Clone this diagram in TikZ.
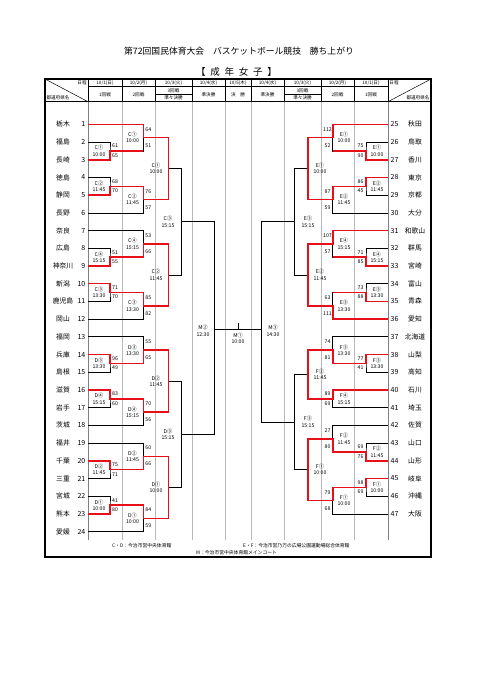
\documentclass[tikz,border=0pt]{standalone}
\usepackage{fontspec}
\setmainfont{Noto Sans CJK JP}
\usepackage{tikz}
\usetikzlibrary{calc}
\definecolor{kokured}{RGB}{232,16,24}
\definecolor{kokugray}{RGB}{185,185,185}
\tikzset{
  bout/.style={draw=black, line width=0.7pt},
  win/.style={draw=kokured, line width=1.6pt},
  colline/.style={draw=kokugray, line width=0.6pt},
  outer/.style={draw=black, line width=1.6pt},
  hgrid/.style={draw=black, line width=0.5pt},
  pref/.style={inner sep=0pt, font=\fontsize{6.8}{7}\selectfont},
  seed/.style={inner sep=0pt, font=\fontsize{7}{7}\selectfont},
  score/.style={inner sep=0pt, font=\fontsize{5.2}{5.2}\selectfont},
  slot/.style={inner sep=0pt, align=center, font=\fontsize{5.2}{6.4}\selectfont},
  head/.style={inner sep=0pt, font=\fontsize{4.6}{4.6}\selectfont},
  note/.style={inner sep=0pt, anchor=west, font=\fontsize{4.8}{4.8}\selectfont}
}

\begin{document}
\begin{tikzpicture}[x=1pt, y=-1pt]
  \useasboundingbox (0,0) rectangle (481,680);

  \node[font=\fontsize{8.8}{9}\selectfont] (title) at (239,51)
    {第72回国民体育大会　バスケットボール競技　勝ち上がり};
  \node[font=\fontsize{9.5}{10}\selectfont] (division) at (236.5,72)
    {【\hspace{0.5em}成\hspace{0.5em}年\hspace{0.5em}女\hspace{0.5em}子\hspace{0.5em}】};

  % header
  \draw[hgrid] (88,86.7) -- (388,86.7);
  \draw[hgrid] (45,101.7) -- (431,101.7);
  \draw[hgrid] (155,94) -- (192,94);
  \draw[hgrid] (284,94) -- (321,94);
  \foreach \x in {88,122,155,192,225,251,284,321,354,388}
    \draw[hgrid] (\x,79) -- (\x,101.7);
  \draw[hgrid] (45,79) -- (88,101.7);
  \draw[hgrid] (388,101.7) -- (431,79);
  \node[head] (dayL) at (82,83) {日程};
  \node[head] (prefL) at (58,97.5) {都道府県名};
  \node[head] (dayR) at (394,83) {日程};
  \node[head] (prefR) at (418,97.5) {都道府県名};
  \foreach \x/\d [count=\k] in {105/{10/1(日)},138.5/{10/2(月)},173.5/{10/3(火)},
      208.5/{10/4(水)},238/{10/5(木)},267.5/{10/4(水)},302.5/{10/3(火)},
      337.5/{10/2(月)},371/{10/1(日)}}
    \node[head] (date\k) at (\x,83) {\d};
  \foreach \x/\r [count=\k] in {105/1回戦,138.5/2回戦,208.5/準決勝,238/決　勝,
      267.5/準決勝,337.5/2回戦,371/1回戦}
    \node[head] (round\k) at (\x,94.3) {\r};
  \node[head] (thirdL) at (173.5,90.3) {3回戦};
  \node[head] (qfL) at (173.5,98) {準々決勝};
  \node[head] (thirdR) at (302.5,90.3) {3回戦};
  \node[head] (qfR) at (302.5,98) {準々決勝};

  \foreach \x in {122,155,192,225,251,284,321,354}
    \draw[colline] (\x,101.7) -- (\x,540);
  \foreach \x in {88,388}
    \draw[colline, draw=gray] (\x,101.7) -- (\x,540);
  \draw[outer] (45,79) rectangle (431,557);

  % teams
  \foreach \n/\p in {1/栃木,2/福島,3/長崎,4/徳島,5/静岡,6/長野,7/奈良,8/広島,
      9/神奈川,10/新潟,11/鹿児島,12/岡山,13/福岡,14/兵庫,15/島根,16/滋賀,
      17/岩手,18/茨城,19/福井,20/千葉,21/三重,22/宮城,23/熊本,24/愛媛}{
    \pgfmathsetmacro\yy{124.3+(\n-1)*17.71}
    \node[pref] (nm\n) at (63,\yy) {\p};
    \node[seed, anchor=east] (no\n) at (85.5,\yy) {\n};
    \coordinate (t\n) at (88,\yy);
  }
  \foreach \n/\p in {25/秋田,26/鳥取,27/香川,28/東京,29/京都,30/大分,31/和歌山,
      32/群馬,33/宮崎,34/富山,35/青森,36/愛知,37/北海道,38/山梨,39/高知,
      40/石川,41/埼玉,42/佐賀,43/山口,44/山形,45/岐阜,46/沖縄,47/大阪}{
    \pgfmathsetmacro\yy{124.3+(\n-25)*17.71}
    \node[pref] (nm\n) at (415,\yy) {\p};
    \node[seed, anchor=west] (no\n) at (390.5,\yy) {\n};
    \coordinate (t\n) at (388,\yy);
  }

  % match points
  \coordinate (C1a) at (110,150.9);   \coordinate (C1b) at (143.3,137.6);
  \coordinate (C2a) at (110,186.3);   \coordinate (C2b) at (143.3,199.6);
  \coordinate (C4a) at (110,257.2);   \coordinate (C4b) at (143.3,243.9);
  \coordinate (C3a) at (110,292.5);   \coordinate (C3b) at (143.3,305.8);
  \coordinate (C1c) at (168.3,168.6); \coordinate (C2c) at (168.3,274.9);
  \coordinate (C3d) at (181.5,221.7);
  \coordinate (D3a) at (110,363.4);   \coordinate (D3b) at (143.3,350.1);
  \coordinate (D4a) at (110,398.8);   \coordinate (D4b) at (143.3,412.1);
  \coordinate (D2a) at (110,469.6);   \coordinate (D2b) at (143.3,456.4);
  \coordinate (D1a) at (110,505.1);   \coordinate (D1b) at (143.3,518.4);
  \coordinate (D2c) at (168.3,381.1); \coordinate (D1c) at (168.3,487.4);
  \coordinate (D3d) at (181.5,434.3);
  \coordinate (M2) at (214.3,329);
  \coordinate (E1a) at (366,150.9);   \coordinate (E1b) at (332.7,137.6);
  \coordinate (E2a) at (366,186.3);   \coordinate (E2b) at (332.7,199.6);
  \coordinate (E4a) at (366,257.2);   \coordinate (E4b) at (332.7,243.9);
  \coordinate (E3a) at (366,292.5);   \coordinate (E3b) at (332.7,305.8);
  \coordinate (E1c) at (307.7,168.6); \coordinate (E2c) at (307.7,274.9);
  \coordinate (E3d) at (294.5,221.7);
  \coordinate (F3a) at (366,363.4);   \coordinate (F3b) at (332.7,350.1);
  \coordinate (F4b) at (332.7,398.8);
  \coordinate (F2a) at (366,452.0);   \coordinate (F2b) at (332.7,438.7);
  \coordinate (F1a) at (366,487.4);   \coordinate (F1b) at (332.7,500.6);
  \coordinate (F2c) at (307.7,374.4); \coordinate (F1c) at (307.7,469.6);
  \coordinate (F3d) at (294.5,422.0);
  \coordinate (M3) at (261.7,329);
  \coordinate (M1) at (238,329);

  \foreach \a/\b/\m in {t2/t3/C1a,t1/C1a/C1b,t4/t5/C2a,C2a/t6/C2b,C1b/C2b/C1c,
      t8/t9/C4a,t7/C4a/C4b,t10/t11/C3a,C3a/t12/C3b,C4b/C3b/C2c,C1c/C2c/C3d,
      t14/t15/D3a,t13/D3a/D3b,t16/t17/D4a,D4a/t18/D4b,D3b/D4b/D2c,
      t20/t21/D2a,t19/D2a/D2b,t22/t23/D1a,D1a/t24/D1b,D2b/D1b/D1c,
      D2c/D1c/D3d,C3d/D3d/M2,
      t26/t27/E1a,t25/E1a/E1b,t28/t29/E2a,E2a/t30/E2b,E1b/E2b/E1c,
      t32/t33/E4a,t31/E4a/E4b,t34/t35/E3a,E3a/t36/E3b,E4b/E3b/E2c,E1c/E2c/E3d,
      t38/t39/F3a,t37/F3a/F3b,t40/t41/F4b,F3b/F4b/F2c,
      t43/t44/F2a,t42/F2a/F2b,t45/t46/F1a,F1a/t47/F1b,F2b/F1b/F1c,
      F2c/F1c/F3d,E3d/F3d/M3}
    \draw[bout] (\a) -| (\m) |- (\b);
  \draw[bout] (M2) -- (M3);
  \draw[bout] (M1) -- ++(0,-6);

  % winners
  \draw[win] (t1) -| (C1b) -| (C1c);
  \draw[win] (t3) -| (C1a) -- (C1a -| C1b);
  \draw[win] (t5) -| (C2a) -| (C2b) -| (C1c);
  \draw[win] (t9) -| (C4a) -| (C4b) -| (C2c);
  \draw[win] (t10) -| (C3a) -| (C3b) -| (C2c);
  \draw[win] (t14) -| (D3a) -| (D3b) -| (D2c);
  \draw[win] (t16) -| (D4a) -| (D4b) -| (D2c);
  \draw[win] (t20) -| (D2a) -| (D2b) -| (D1c);
  \draw[win] (t23) -| (D1a) -| (D1b) -| (D1c);
  \draw[win] (t25) -| (E1b) -| (E1c);
  \draw[win] (t27) -| (E1a) -- (E1a -| E1b);
  \draw[win] (t28) -| (E2a) -| (E2b) -| (E1c);
  \draw[win] (t31) -| (E4b) -| (E2c);
  \draw[win] (t33) -| (E4a) -- (E4a -| E4b);
  \draw[win] (t35) -| (E3a) -- (E3a -| E3b);
  \draw[win] (t36) -| (E3b) -| (E2c);
  \draw[win] (t38) -| (F3a) -| (F3b) -| (F2c);
  \draw[win] (t40) -| (F4b) -| (F2c);
  \draw[win] (t44) -| (F2a) -| (F2b) -| (F1c);
  \draw[win] (t45) -| (F1a) -| (F1b) -| (F1c);

  % scores
  \foreach \x/\y/\v [count=\k] in {115/146/61,115/155.5/65,115/181.4/68,115/190.8/70,
      115/252.3/51,115/261.7/55,115/287.7/71,115/297.1/70,115/358.5/96,115/367.9/49,
      115/393.9/83,115/403.3/60,115/464.8/75,115/474.2/71,115/500.2/41,115/509.6/80,
      148.3/129.3/64,148.3/145.4/51,148.3/191.3/76,148.3/207.4/57,
      148.3/235.6/53,148.3/251.7/66,148.3/297.5/85,148.3/313.6/82,
      148.3/341.8/55,148.3/357.9/65,148.3/403.8/70,148.3/419.9/56,
      148.3/448.1/60,148.3/464.1/66,148.3/510.1/84,148.3/526.1/59,
      360.5/146/75,360.5/155.5/90,360.5/181.4/86,360.5/190.8/45,
      360.5/252.3/71,360.5/261.7/85,360.5/287.7/73,360.5/297.1/88,
      360.5/358.5/77,360.5/367.9/41,360.5/447.1/69,360.5/456.5/76,
      360.5/482.5/98,360.5/491.9/69,
      327.5/129.3/112,327.5/145.4/52,327.5/191.3/87,327.5/207.4/59,
      327.5/235.6/107,327.5/251.7/57,327.5/297.5/63,327.5/313.6/111,
      327.5/341.8/74,327.5/357.9/81,327.5/393.9/89,327.5/403.3/69,
      327.5/430.4/27,327.5/446.5/80,327.5/492.4/79,327.5/508.4/68}
    \node[score] (sc\k) at (\x,\y) {\v};

  % courts and times
  \foreach \x/\y/\c/\t [count=\k] in {99/150.9/C①/10:00,99/186.3/C②/11:45,
      99/257.2/C④/15:15,99/292.5/C③/13:30,99/363.4/D③/13:30,99/398.8/D④/15:15,
      99/469.6/D②/11:45,99/505.1/D①/10:00,
      132.5/137.6/C①/10:00,132.5/199.6/C②/11:45,132.5/243.9/C④/15:15,
      132.5/305.8/C③/13:30,132.5/350.1/D③/13:30,132.5/412.1/D④/15:15,
      132.5/456.4/D②/11:45,132.5/518.4/D①/10:00,
      156/168.6/C①/10:00,156/274.9/C②/11:45,156/381.1/D②/11:45,156/487.4/D①/10:00,
      168/221.7/C③/15:15,168/434.3/D③/15:15,
      203/331/M②/12:30,238/338.5/M①/10:00,273/331/M③/14:30,
      377/150.9/E①/10:00,377/186.3/E②/11:45,377/257.2/E④/15:15,
      377/292.5/E③/13:30,377/363.4/F③/13:30,377/452.0/F②/11:45,377/487.4/F①/10:00,
      344/137.6/E①/10:00,344/199.6/E②/11:45,344/243.9/E④/15:15,
      344/305.8/E③/13:30,344/350.1/F③/13:30,344/398.8/F④/15:15,
      344/438.7/F②/11:45,344/500.6/F①/10:00,
      320/168.6/E①/10:00,320/274.9/E②/11:45,320/374.4/F②/11:45,320/469.6/F①/10:00,
      308/221.7/E③/15:15,308/422.0/F③/15:15}
    \node[slot] (slot\k) at (\x,\y) {\c\\\t};

  \node[note] (venueCD) at (112,546) {C・D：今治市営中央体育館};
  \node[note] (venueEF) at (243,546) {E・F：今治市営乃万の広場公園運動場総合体育館};
  \node[note] (venueM) at (196,552.5) {M：今治市営中央体育館メインコート};
\end{tikzpicture}
\end{document}
